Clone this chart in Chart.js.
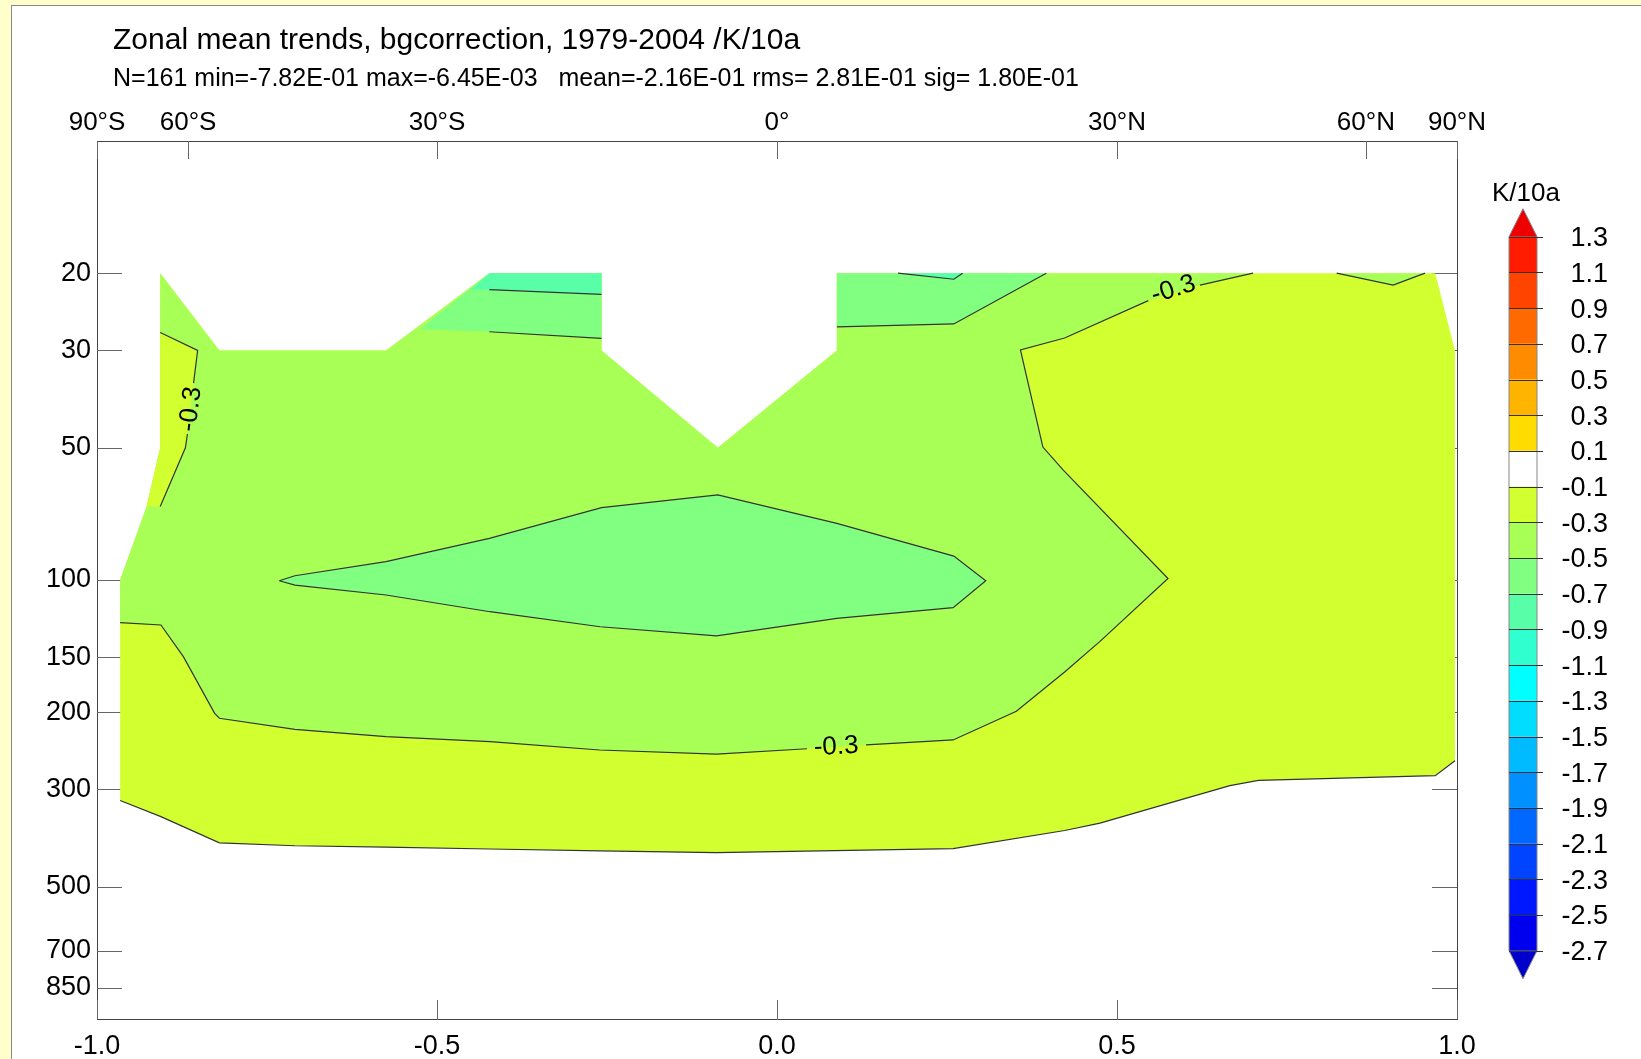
<!DOCTYPE html>
<html>
<head>
<meta charset="utf-8">
<title>Zonal mean trends</title>
<script src="https://cdn.jsdelivr.net/npm/chart.js@4.4.1/dist/chart.umd.min.js"></script>
<style>
    html, body { margin: 0; padding: 0; background: #ffffcc; overflow: hidden; }
    .panel {
        position: absolute; left: 11px; top: 5px; width: 1640px; height: 1060px;
        background: #fff; border-left: 1px solid #888; border-top: 1px solid #888;
    }
    #trendChart { position: absolute; left: 0; top: 0; }
</style>
</head>
<body>
<div class="panel">
    <canvas id="trendChart" width="1629" height="1053"></canvas>
</div>
<script>
// Axis ticks
const pressureTicks = [20, 30, 50, 100, 150, 200, 300, 500, 700, 850];
const sinLatTicks = [-1.0, -0.5, 0.0, 0.5, 1.0];
const latTicks = [-1, -0.866, -0.5, 0, 0.5, 0.866, 1];
const latLabels = ['90°S', '60°S', '30°S', '0°', '30°N', '60°N', '90°N'];

// Contour levels (K/10a) and the fill colour of each band between two levels
const levels = [1.3, 1.1, 0.9, 0.7, 0.5, 0.3, 0.1, -0.1, -0.3, -0.5, -0.7, -0.9, -1.1, -1.3, -1.5, -1.7, -1.9, -2.1, -2.3, -2.5, -2.7];
const bandColors = ['#ff1c00', '#ff4400', '#ff6a00', '#ff8c00', '#ffb400', '#ffdc00', '#ffffff',
    '#d2ff30', '#a8ff55', '#80ff80', '#58ffa8', '#30ffd0', '#00ffff', '#00ddff', '#00bbff',
    '#0090ff', '#0068ff', '#0044ff', '#0018ff', '#0000ee'];
const arrowColors = ['#ee0000', '#0000cc'];

// Filled areas, [sin(lat), pressure hPa]
const domainEdge = [[-0.907, 20], [-0.820, 30], [-0.575, 30], [-0.423, 20], [-0.258, 20], [-0.258, 30],
    [-0.087, 50], [0.088, 30], [0.088, 20], [0.968, 20], [0.997, 30], [0.997, 258], [0.968, 279],
    [0.708, 286], [0.666, 294], [0.578, 322], [0.475, 358], [0.423, 372], [0.259, 409], [-0.089, 418],
    [-0.260, 414], [-0.422, 410], [-0.575, 406], [-0.709, 403], [-0.820, 397], [-0.906, 346],
    [-0.966, 318], [-0.966, 100], [-0.927, 68], [-0.907, 50]];
const mainBandArea = [[-0.966, 125], [-0.966, 100], [-0.927, 68], [-0.907, 50], [-0.907, 20], [-0.820, 30],
    [-0.575, 30], [-0.423, 20], [-0.258, 20], [-0.258, 30], [-0.087, 50], [0.088, 30], [0.088, 20],
    [0.700, 20], [0.622, 21.3], [0.546, 23.1], [0.423, 28.1], [0.358, 29.9], [0.391, 49.8], [0.421, 56.2],
    [0.575, 99.2], [0.475, 138], [0.423, 162], [0.352, 199], [0.259, 231.4], [-0.089, 249.2],
    [-0.261, 243.9], [-0.422, 233.5], [-0.575, 227.5], [-0.709, 218.9], [-0.820, 206.5], [-0.827, 201.2],
    [-0.873, 149.5], [-0.906, 126.6]];
const leftPatchArea = [[-0.907, 27.3], [-0.852, 30], [-0.870, 50], [-0.907, 68], [-0.927, 68], [-0.907, 50]];
const rightPatchArea = [[0.823, 20], [0.906, 21.3], [0.953, 20]];
const tropBlobArea = [[-0.732, 100.4], [-0.709, 97.8], [-0.575, 90.8], [-0.423, 80.4], [-0.258, 68.4],
    [-0.087, 64.0], [0.088, 74.3], [0.260, 88.2], [0.307, 100.4], [0.259, 115.6], [0.088, 122.3],
    [-0.089, 134.1], [-0.260, 127.8], [-0.422, 118.1], [-0.575, 108.2], [-0.709, 102.7]];
const shTopArea = [[-0.525, 26.85], [-0.423, 20], [-0.258, 20], [-0.258, 28.15], [-0.423, 27.2]];
const nhTopArea = [[0.088, 20], [0.396, 20], [0.260, 26.1], [0.088, 26.5]];
const shTealArea = [[-0.449, 21.8], [-0.423, 20], [-0.258, 20], [-0.258, 22.35], [-0.423, 21.8]];
const nhTealArea = [[0.178, 20], [0.260, 20.65], [0.273, 20]];

// Contour lines (null = gap for a label)
const contourM01 = [[-0.966, 318], [-0.906, 346], [-0.820, 397], [-0.709, 403], [-0.575, 406], [-0.422, 410],
    [-0.260, 414], [-0.089, 418], [0.259, 409], [0.423, 372], [0.475, 358], [0.578, 322], [0.666, 294],
    [0.708, 286], [0.968, 279], [0.997, 258]];
const contourM03 = [[0.700, 20], [0.622, 21.3], null, [0.546, 23.1], [0.423, 28.1], [0.358, 29.9],
    [0.391, 49.8], [0.421, 56.2], [0.575, 99.2], [0.475, 138], [0.423, 162], [0.352, 199], [0.259, 231.4],
    [0.131, 237.5], null, [0.044, 242.3], [-0.089, 249.2], [-0.261, 243.9], [-0.422, 233.5], [-0.575, 227.5],
    [-0.709, 218.9], [-0.820, 206.5], [-0.827, 201.2], [-0.873, 149.5], [-0.906, 126.6], [-0.966, 125]];
const contourM03Left = [[-0.907, 27.3], [-0.852, 30], [-0.858, 35.6], null, [-0.867, 46.5], [-0.870, 50], [-0.907, 68]];
const contourM03Right = [[0.823, 20], [0.906, 21.3], [0.953, 20]];
const contourM05Blob = tropBlobArea.concat([tropBlobArea[0]]);
const contourM05Sh = [[-0.423, 27.2], [-0.258, 28.15]];
const contourM05Nh = [[0.088, 26.5], [0.260, 26.1], [0.396, 20]];
const contourM07Sh = [[-0.423, 21.8], [-0.258, 22.35]];
const contourM07Nh = [[0.178, 20], [0.260, 20.65], [0.273, 20]];

// Contour labels: text, sin(lat), pressure, angle (deg)
const contourLabels = [['-0.3', -0.862, 40.8, -83], ['-0.3', 0.087, 239.8, -3], ['-0.3', 0.583, 21.8, -17]];

const FONT = "'Liberation Sans', Arial, Helvetica, sans-serif";

function bandColor(v) {
    for (let i = 0; i < bandColors.length; i++) {
        if (v <= levels[i] && v > levels[i + 1]) return bandColors[i];
    }
    return '#ffffff';
}

function toXY(pts) {
    return pts.map(p => p ? { x: p[0], y: p[1] } : { x: 0, y: null });
}

const fills = [
    { value: -0.2, pts: domainEdge },
    { value: -0.4, pts: mainBandArea },
    { value: -0.4, pts: rightPatchArea },
    { value: -0.2, pts: leftPatchArea },
    { value: -0.6, pts: tropBlobArea },
    { value: -0.6, pts: shTopArea },
    { value: -0.6, pts: nhTopArea },
    { value: -0.8, pts: shTealArea },
    { value: -0.8, pts: nhTealArea }
];
const lines = [contourM01, contourM03, contourM03Left, contourM03Right, contourM05Blob,
    contourM05Sh, contourM05Nh, contourM07Sh, contourM07Nh];

const datasets = [];
fills.forEach(f => {
    datasets.push({
        data: toXY(f.pts),
        backgroundColor: bandColor(f.value),
        borderWidth: 0,
        fill: 'shape',
        pointRadius: 0
    });
});
lines.forEach(l => {
    datasets.push({
        data: toXY(l),
        borderColor: '#333333',
        borderWidth: 1.2,
        fill: false,
        pointRadius: 0
    });
});
// later datasets are drawn on top
datasets.forEach((d, i) => { d.order = datasets.length - i; });

// Tick marks point inwards from the frame
const innerTicks = {
    id: 'innerTicks',
    beforeDatasetsDraw(chart) {
        const { ctx, chartArea: a, scales } = chart;
        ctx.save();
        ctx.strokeStyle = '#666';
        ctx.lineWidth = 1;
        ctx.beginPath();
        scales.y.ticks.forEach(t => {
            const py = Math.round(scales.y.getPixelForValue(t.value)) + 0.5;
            ctx.moveTo(a.left, py); ctx.lineTo(a.left + 25, py);
            ctx.moveTo(a.right - 25, py); ctx.lineTo(a.right, py);
        });
        scales.xTop.ticks.forEach(t => {
            const px = Math.round(scales.xTop.getPixelForValue(t.value)) + 0.5;
            ctx.moveTo(px, a.top); ctx.lineTo(px, a.top + 18);
        });
        scales.x.ticks.forEach(t => {
            const px = Math.round(scales.x.getPixelForValue(t.value)) + 0.5;
            ctx.moveTo(px, a.bottom); ctx.lineTo(px, a.bottom - 19);
        });
        ctx.stroke();
        ctx.restore();
    }
};

// Titles, contour labels and the colour bar
const annotations = {
    id: 'annotations',
    afterDraw(chart) {
        const { ctx, scales } = chart;
        ctx.save();
        ctx.fillStyle = '#000';
        ctx.textAlign = 'left';
        ctx.textBaseline = 'alphabetic';
        ctx.font = '30px ' + FONT;
        ctx.fillText('Zonal mean trends, bgcorrection, 1979-2004 /K/10a', 101, 43);
        ctx.font = '25px ' + FONT;
        ctx.fillText('N=161 min=-7.82E-01 max=-6.45E-03   mean=-2.16E-01 rms= 2.81E-01 sig= 1.80E-01', 101, 80);

        // contour labels
        ctx.font = '26px ' + FONT;
        ctx.textAlign = 'center';
        ctx.textBaseline = 'middle';
        contourLabels.forEach(([txt, lx, lp, ang]) => {
            ctx.save();
            ctx.translate(scales.x.getPixelForValue(lx), scales.y.getPixelForValue(lp));
            ctx.rotate(ang * Math.PI / 180);
            ctx.fillText(txt, 0, 0);
            ctx.restore();
        });

        // colour bar
        const left = 1497, w = 28, top = 230.7, step = 35.7, tip = 28;
        const bottom = top + step * (levels.length - 1);
        bandColors.forEach((c, i) => {
            ctx.fillStyle = c;
            ctx.fillRect(left, top + i * step, w, step);
        });
        ctx.fillStyle = arrowColors[0];
        ctx.beginPath();
        ctx.moveTo(left, top); ctx.lineTo(left + w / 2, top - tip); ctx.lineTo(left + w, top);
        ctx.closePath(); ctx.fill();
        ctx.fillStyle = arrowColors[1];
        ctx.beginPath();
        ctx.moveTo(left, bottom); ctx.lineTo(left + w / 2, bottom + tip); ctx.lineTo(left + w, bottom);
        ctx.closePath(); ctx.fill();

        ctx.strokeStyle = '#888';
        ctx.lineWidth = 1;
        ctx.beginPath();
        ctx.moveTo(left, bottom); ctx.lineTo(left, top); ctx.lineTo(left + w / 2, top - tip);
        ctx.lineTo(left + w, top); ctx.lineTo(left + w, bottom); ctx.lineTo(left + w / 2, bottom + tip);
        ctx.closePath();
        ctx.stroke();

        ctx.strokeStyle = '#333';
        ctx.beginPath();
        levels.forEach((lv, i) => {
            const y = Math.round(top + i * step) + 0.5;
            ctx.moveTo(left, y); ctx.lineTo(left + w + 6, y);
        });
        ctx.stroke();

        ctx.fillStyle = '#000';
        ctx.font = '27px ' + FONT;
        ctx.textAlign = 'right';
        ctx.textBaseline = 'middle';
        levels.forEach((lv, i) => {
            ctx.fillText(lv.toFixed(1), 1596, top + i * step + 2);
        });
        ctx.textAlign = 'center';
        ctx.font = '26px ' + FONT;
        ctx.fillText('K/10a', 1514, 188);
        ctx.restore();
    }
};

const frameBorder = { display: true, color: '#444', width: 1 };
const noGrid = { display: true, drawOnChartArea: false, drawTicks: false };
const numFont = { family: FONT, size: 27 };
const latFont = { family: FONT, size: 26 };

document.addEventListener('DOMContentLoaded', function() {
    const ctx = document.getElementById('trendChart').getContext('2d');
    new Chart(ctx, {
        type: 'line',
        data: { datasets: datasets },
        options: {
            responsive: false,
            animation: false,
            events: [],
            spanGaps: false,
            layout: { padding: { top: 70, left: 0, right: 0, bottom: 0 } },
            plugins: {
                legend: { display: false },
                tooltip: { enabled: false },
                title: { display: false }
            },
            scales: {
                x: {
                    type: 'linear', position: 'bottom', min: -1, max: 1,
                    afterBuildTicks: s => { s.ticks = sinLatTicks.map(v => ({ value: v })); },
                    afterFit: s => { s.height = 40; },
                    ticks: { callback: v => v.toFixed(1), font: numFont, color: '#000', padding: 11,
                        maxRotation: 0, autoSkip: false },
                    grid: noGrid,
                    border: frameBorder
                },
                xTop: {
                    type: 'linear', position: 'top', min: -1, max: 1,
                    afterBuildTicks: s => { s.ticks = latTicks.map(v => ({ value: v })); },
                    afterFit: s => { s.height = 65; },
                    ticks: { callback: (v, i) => latLabels[i], font: latFont, color: '#000', padding: 3,
                        maxRotation: 0, autoSkip: false },
                    grid: noGrid,
                    border: frameBorder
                },
                y: {
                    type: 'logarithmic', position: 'left', min: 10, max: 1000, reverse: true,
                    afterBuildTicks: s => { s.ticks = pressureTicks.map(v => ({ value: v })); },
                    afterFit: s => { s.width = 85; },
                    ticks: { callback: v => String(v), font: numFont, color: '#000', padding: 6, autoSkip: false },
                    grid: noGrid,
                    border: frameBorder
                },
                yRight: {
                    type: 'logarithmic', position: 'right', min: 10, max: 1000, reverse: true,
                    afterBuildTicks: s => { s.ticks = pressureTicks.map(v => ({ value: v })); },
                    afterFit: s => { s.width = 184; },
                    ticks: { display: false },
                    grid: noGrid,
                    border: frameBorder
                }
            }
        },
        plugins: [innerTicks, annotations]
    });
});
</script>
</body>
</html>
